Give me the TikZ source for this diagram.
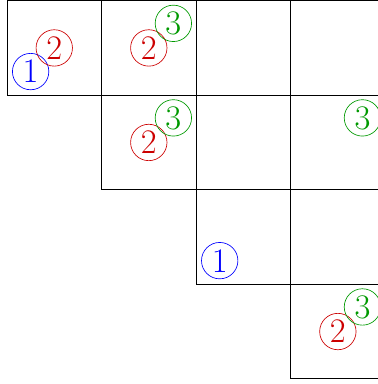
\documentclass[tikz,border=0pt]{standalone}
\begin{document}
\begin{tikzpicture}[x=2cm,y=2cm,
  cell/.style={draw,line width=0.5pt},
  tag/.style={circle,draw,inner sep=0pt,minimum size=0.77cm,font=\huge},
  one/.style={tag,blue},
  two/.style={tag,red!80!black},
  three/.style={tag,green!60!black}]
  \useasboundingbox (-0.074,-4.055) rectangle (3.924,0.007);
  % upper triangular grid
  \foreach \i in {0,...,3}
    \foreach \j in {\i,...,3}
      \draw[cell] (\j,-\i-1) rectangle ++(1,1);
  % row 0
  \node[one]   (r0c0a) at (0.25,-0.75) {1};
  \node[two]   (r0c0b) at (0.5,-0.5)   {2};
  \node[two]   (r0c1b) at (1.5,-0.5)   {2};
  \node[three] (r0c1c) at (1.76,-0.24) {3};
  % row 1
  \node[two]   (r1c1b) at (1.5,-1.5)   {2};
  \node[three] (r1c1c) at (1.76,-1.24) {3};
  \node[three] (r1c3c) at (3.76,-1.24) {3};
  % row 2
  \node[one]   (r2c2a) at (2.25,-2.75) {1};
  % row 3
  \node[two]   (r3c3b) at (3.5,-3.5)   {2};
  \node[three] (r3c3c) at (3.76,-3.24) {3};
\end{tikzpicture}
\end{document}
